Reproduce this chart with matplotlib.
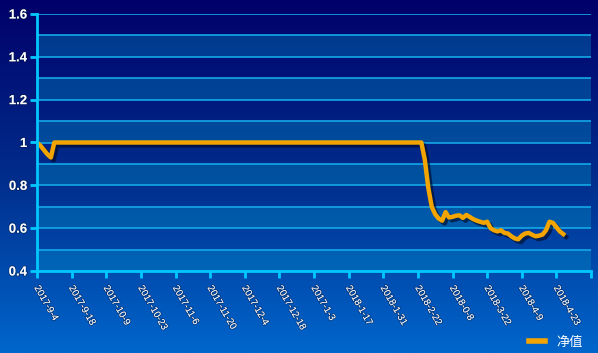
import numpy as np
import matplotlib
matplotlib.use("Agg")
import matplotlib.pyplot as plt
import matplotlib.patheffects as pe
import matplotlib.transforms as mtransforms
from matplotlib.colors import LinearSegmentedColormap
from matplotlib.lines import Line2D

# -----------------------------
# Data (net value, one point per trading day)
# -----------------------------
dip_start = [1.0, 0.985, 0.965, 0.945, 0.93]
flat_len = 107  # idx 5 .. 111 stay at 1.0
tail = [0.92, 0.79, 0.70, 0.665, 0.645, 0.635, 0.675, 0.65, 0.653, 0.658,
        0.66, 0.648, 0.662, 0.652, 0.642, 0.635, 0.63, 0.625, 0.63, 0.60,
        0.59, 0.585, 0.59, 0.578, 0.575, 0.562, 0.552, 0.548, 0.565, 0.575,
        0.578, 0.569, 0.562, 0.565, 0.57, 0.59, 0.63, 0.625, 0.605, 0.585,
        0.572]
net_value = dip_start + [1.0] * flat_len + tail

tick_labels = ["2017-9-4", "2017-9-18", "2017-10-9", "2017-10-23", "2017-11-6",
               "2017-11-20", "2017-12-4", "2017-12-18", "2017-1-3", "2018-1-17",
               "2018-1-31", "2018-2-22", "2018-0-8", "2018-3-22", "2018-4-9",
               "2018-4-23"]
y_ticks = [0.4, 0.6, 0.8, 1.0, 1.2, 1.4, 1.6]
y_labels = ["0.4", "0.6", "0.8", "1", "1.2", "1.4", "1.6"]

line_color = "#f2a500"
grid_color = "#14a8e8"
axis_color = "#00c8ff"

fig = plt.figure(figsize=(5.98, 3.53), dpi=100)

# gradient background
bg = fig.add_axes([0, 0, 1, 1], zorder=0)
cmap = LinearSegmentedColormap.from_list("bg", ["#00006a", "#002d8c", "#0066cc"])
bg.imshow(np.linspace(0, 1, 256).reshape(-1, 1), aspect="auto", cmap=cmap,
          extent=[0, 1, 0, 1])
bg.axis("off")

ax = fig.add_axes([37 / 598, 1 - 271 / 353, (591 - 37) / 598, (271 - 14) / 353], zorder=1)
ax.patch.set_alpha(0)

x = np.arange(len(net_value))
ax.set_xlim(0, 160)
ax.set_ylim(0.4, 1.6)

# alternating bands + grid every 0.1
for k in range(6):
    lo = 0.4 + 0.2 * k
    ax.axhspan(lo, lo + 0.1, color="#0096c8", alpha=0.35, lw=0, zorder=0)
for v in np.arange(0.5, 1.61, 0.1):
    ax.axhline(v, color=grid_color, lw=1.2, zorder=1)

ax.plot(x, net_value, color=line_color, lw=3.2, zorder=3, solid_joinstyle="round",
        path_effects=[pe.SimpleLineShadow(offset=(2, -2), shadow_color="#000820", alpha=0.6),
                      pe.Normal()])

# axes styling
for s in ["top", "right"]:
    ax.spines[s].set_visible(False)
for s in ["left", "bottom"]:
    ax.spines[s].set_color(axis_color)
    ax.spines[s].set_linewidth(2)
    ax.spines[s].set_zorder(4)

ax.set_yticks(y_ticks)
ax.set_yticklabels(y_labels, fontsize=9.5, fontweight="bold", color="white",
                   family="Liberation Sans")
ax.set_xticks(np.arange(0, 161, 10))
ax.set_xticklabels(tick_labels + [""], fontsize=7, color="white",
                   family="Liberation Sans", rotation=-60, ha="left", va="top",
                   rotation_mode="anchor")
ax.tick_params(axis="both", colors=axis_color, width=2, length=5)
ax.tick_params(axis="y", labelcolor="white", pad=2)
ax.tick_params(axis="x", labelcolor="white", pad=4)

shift = mtransforms.ScaledTranslation(4 / 100, 0, fig.dpi_scale_trans)
for lab in ax.get_xticklabels():
    lab.set_transform(lab.get_transform() + shift)
for lab in ax.get_xticklabels() + ax.get_yticklabels():
    lab.set_path_effects([pe.withStroke(linewidth=1.2, foreground="#00164080")])

# legend
handle = Line2D([], [], color=line_color, lw=4)
leg = fig.legend([handle], ["净值"], loc="center", bbox_to_anchor=(0.93, 0.03),
                 frameon=False, handlelength=1.2, handletextpad=0.9,
                 prop={"family": ["Noto Sans CJK SC", "DejaVu Sans"], "size": 9.5})
for t in leg.get_texts():
    t.set_color("white")

fig.savefig("out.png", dpi=100)
